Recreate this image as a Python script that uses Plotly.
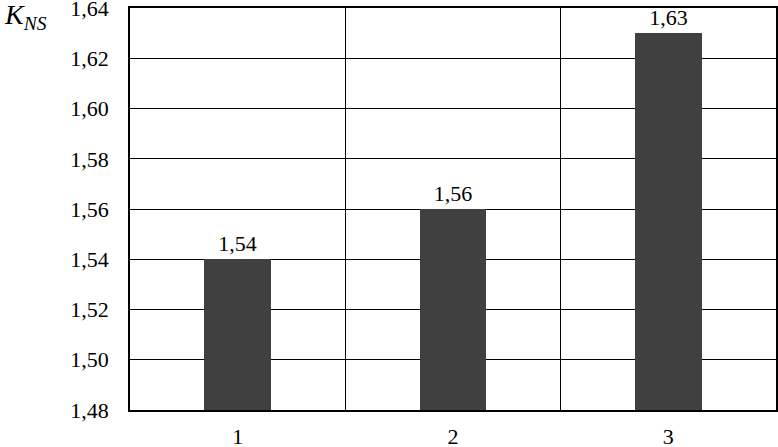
import plotly.graph_objects as go

categories = [1, 2, 3]
values = [1.54, 1.56, 1.63]
y_ticks = [1.48, 1.50, 1.52, 1.54, 1.56, 1.58, 1.60, 1.62, 1.64]

SERIF = "Liberation Serif"
L, R, T, B = 130, 2, 8, 37
PW, PH = 778 - L - R, 447 - T - B

fig = go.Figure()
fig.add_trace(go.Bar(
    x=categories, y=values,
    marker=dict(color="#404040", line=dict(width=0)),
    width=0.31,
    texttemplate="%{y:.2f}", textposition="outside",
    textfont=dict(family=SERIF, size=22, color="black"),
    cliponaxis=False,
))

fig.update_layout(
    width=778, height=447,
    margin=dict(l=L, r=R, t=T, b=B, autoexpand=False),
    plot_bgcolor="white", paper_bgcolor="white",
    separators=",.",
    showlegend=False,
    font=dict(family=SERIF, size=22, color="black"),
    bargap=0,
)
fig.update_xaxes(
    range=[0.5, 3.5], tickvals=categories, ticktext=[str(c) for c in categories],
    showgrid=False, showline=True, linecolor="black", linewidth=1.5, mirror=True,
    ticks="", ticklabelstandoff=6, automargin=False,
    tickfont=dict(family=SERIF, size=22, color="black"),
    minor=dict(tick0=0.5, dtick=1, showgrid=True, gridcolor="black", gridwidth=1),
    zeroline=False,
)
fig.update_yaxes(
    range=[1.48, 1.6401], tickvals=y_ticks, tickformat=".2f",
    showgrid=True, gridcolor="black", gridwidth=1,
    showline=True, linecolor="black", linewidth=1.5, mirror=True,
    ticks="", ticklabelstandoff=15, zeroline=False, automargin=False,
    ticklabeloverflow="allow",
    tickfont=dict(family=SERIF, size=22, color="black"),
)
fig.add_annotation(
    x=(2 - L) / PW, y=1 - 8 / PH, xref="paper", yref="paper",
    text="<i>K<sub>NS</sub></i>", showarrow=False,
    font=dict(family=SERIF, size=28, color="black"),
    xanchor="left", yanchor="middle",
)
fig.write_html(
    "out.html",
    config={"displayModeBar": False},
    post_script="document.body.style.margin='0';document.body.style.overflow='hidden';",
)
